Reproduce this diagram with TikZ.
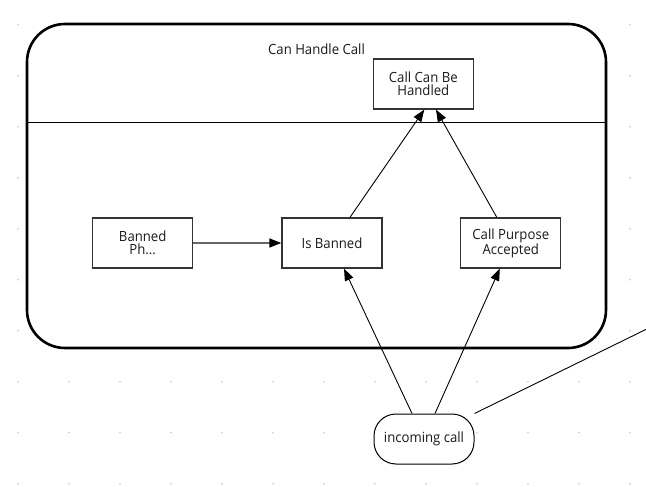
\documentclass[tikz,border=0pt]{standalone}
\usepackage{fontspec}
\setmainfont{Open Sans}[FakeStretch=0.94]
\usetikzlibrary{arrows.meta}
\definecolor{dotc}{HTML}{C8C8C8}
\definecolor{boxc}{HTML}{333333}
\definecolor{txtc}{HTML}{1A1A1A}
\definecolor{linkgray}{HTML}{666666}
\tikzset{
  container/.style={draw=black, line width=2.6pt, fill=white, rounded corners=38pt,
    minimum width=579pt, minimum height=324pt, inner sep=0pt},
  statebox/.style={draw=boxc, line width=1.3pt, fill=white, minimum width=100pt,
    minimum height=50pt, inner sep=0pt, align=center, text=txtc,
    font=\fontsize{14}{13.3}\selectfont},
  startbox/.style={draw=black, line width=1pt, fill=white, rounded corners=22pt,
    minimum width=100pt, minimum height=50pt, inner sep=0pt, text=txtc,
    font=\fontsize{14}{13.3}\selectfont},
  titletext/.style={text=txtc, font=\fontsize{14}{13.3}\selectfont, inner sep=0pt},
  arr/.style={draw=black, line width=0.9pt, -{Triangle[length=12pt,width=9pt]}},
  grayarr/.style={draw=linkgray, line width=1.5pt, -{Triangle[length=12pt,width=9pt,color=black]}},
  plainlink/.style={draw=black, line width=0.9pt},
  divider/.style={draw=black, line width=1.6pt}
}
\begin{document}
\begin{tikzpicture}[x=1pt,y=-1pt]
\useasboundingbox (0,0) rectangle (646,487);
\clip (0,0) rectangle (646,487);
\fill[white] (0,0) rectangle (646,487);
% grid dots
\foreach \i in {0,...,12}{
  \foreach \j in {0,...,9}{
    \fill[dotc] ({18+51*\i},{24.7+51*\j}) circle (0.9pt);
  }
}
% container
\node[container] (outer) at (316.5,186) {};
\draw[divider] ([yshift=-100pt]outer.north west) -- ([yshift=-100pt]outer.north east);
\node[titletext] (title) at (316.5,49.5) {Can Handle Call};
% states
\node[statebox] (ccbh) at (423.3,84) {Call Can Be\\Handled};
\node[statebox] (banned) at (142.7,243) {Banned\\Ph...};
\node[statebox] (isb) at (332,243) {Is Banned};
\node[statebox] (cpa) at (510.8,243) {Call Purpose\\Accepted};
\node[startbox] (incoming) at (424,439) {incoming call};
\coordinate (offpage) at (700,302.9);
% connectors
\draw[grayarr] (banned) -- (isb);
\draw[arr] ([xshift=18pt]isb.north) -- ([xshift=1pt]ccbh.south);
\draw[arr] ([xshift=-14pt]cpa.north) -- ([xshift=12.7pt]ccbh.south);
\draw[arr] ([xshift=-12pt]incoming.north) -- ([xshift=12pt]isb.south);
\draw[arr] ([xshift=11pt]incoming.north) -- ([xshift=-11pt]cpa.south);
\draw[plainlink] (incoming.north east) -- (offpage);
\end{tikzpicture}
\end{document}
